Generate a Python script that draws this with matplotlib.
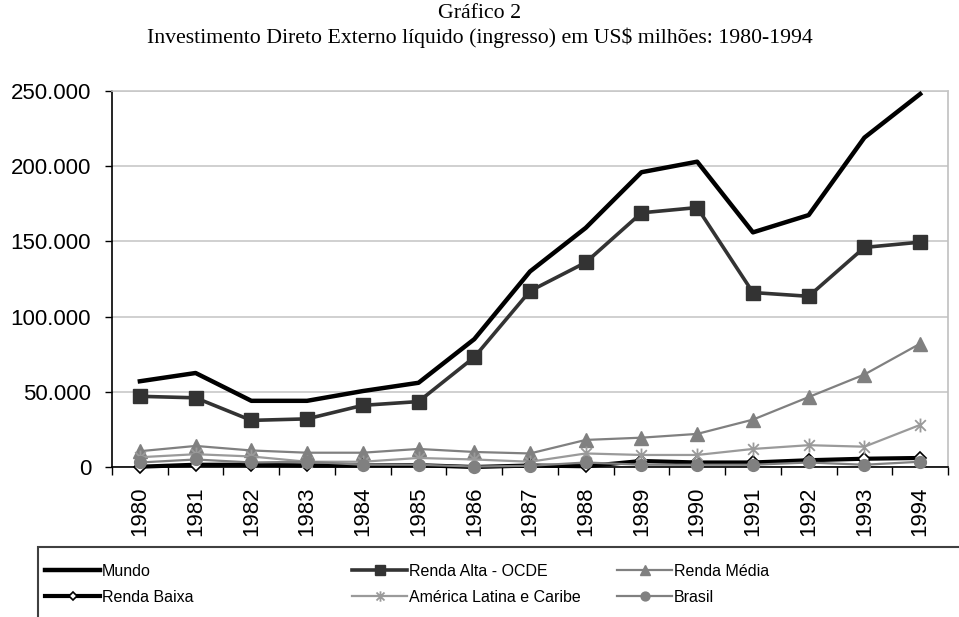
import matplotlib
matplotlib.use("Agg")
import matplotlib.pyplot as plt
from matplotlib.path import Path
from matplotlib.patches import Rectangle
from matplotlib.ticker import FuncFormatter, FixedLocator

years = [str(y) for y in range(1980, 1995)]

mundo = [57000, 62500, 44000, 44000, 50500, 56000, 85000, 130000, 159000, 196000, 203000, 156000, 167500, 219000, 248000]
renda_alta = [47000, 46000, 31000, 32000, 41000, 43500, 73000, 117000, 136000, 169000, 172500, 116000, 113500, 146000, 149500]
renda_media = [10500, 14000, 11000, 9500, 9500, 12000, 10000, 9000, 18000, 19500, 22000, 31500, 46500, 61500, 82000]
renda_baixa = [200, 1500, 1500, 1000, 1000, 1200, 0, 1000, 500, 4000, 3000, 3000, 4500, 5500, 6000]
america_latina = [6500, 8500, 7000, 3500, 3500, 6000, 5000, 3500, 9000, 8000, 8000, 12000, 14500, 13500, 28000]
brasil = [3000, 5000, 3000, 3500, 1500, 1500, 300, 800, 3000, 1500, 1500, 1500, 3000, 1500, 3500]

labels = ["Mundo", "Renda Alta - OCDE", "Renda Média", "Renda Baixa",
          "América Latina e Caribe", "Brasil"]

W, H = 959, 617
fig = plt.figure(figsize=(W / 100, H / 100), dpi=100)
ax = fig.add_axes([112 / W, 1 - 467 / H, (948 - 112) / W, (467 - 91) / H])

x = list(range(len(years)))
star = Path([(-1, -1), (1, 1), (-1, 1), (1, -1), (0, -1.3), (0, 1.3)],
            [Path.MOVETO, Path.LINETO, Path.MOVETO, Path.LINETO, Path.MOVETO, Path.LINETO])

ax.plot(x, mundo, color="black", lw=3.2, label=labels[0], zorder=3, clip_on=False)
ax.plot(x, renda_alta, color="#333333", lw=2.6, marker="s", ms=10, label=labels[1], zorder=3, clip_on=False)
ax.plot(x, renda_media, color="#808080", lw=1.6, marker="^", ms=10, label=labels[2], zorder=3, clip_on=False)
ax.plot(x, renda_baixa, color="black", lw=3.0, marker="D", ms=6, mfc="white", mec="black", mew=1.2,
        label=labels[3], zorder=3, clip_on=False)
ax.plot(x, america_latina, color="#9a9a9a", lw=1.6, marker=star, ms=10, mew=1.3, label=labels[4], zorder=3, clip_on=False)
ax.plot(x, brasil, color="#808080", lw=1.6, marker="o", ms=8.5, label=labels[5], zorder=3, clip_on=False)

ax.set_xlim(-0.5, len(years) - 0.5)
ax.set_ylim(0, 250000)
ax.set_yticks(range(0, 250001, 50000))
ax.yaxis.set_major_formatter(FuncFormatter(lambda v, p: f"{int(v):,}".replace(",", ".")))
ax.set_xticks(x)
ax.set_xticklabels(years, rotation=90)
ax.xaxis.set_minor_locator(FixedLocator([i - 0.5 for i in range(len(years) + 1)]))
ax.tick_params(axis="x", which="major", length=0, pad=14, labelsize=16)
ax.tick_params(axis="x", which="minor", length=5.5, width=1, direction="out")
ax.tick_params(axis="y", length=5, width=1, pad=10, labelsize=16)
for lab in ax.get_xticklabels() + ax.get_yticklabels():
    lab.set_fontfamily("Liberation Sans")

ax.grid(axis="y", color="#c8c8c8", lw=1.2, zorder=0)
ax.set_axisbelow(True)
ax.spines["left"].set_color("black")
ax.spines["bottom"].set_color("black")
ax.spines["right"].set_color("#c0c0c0")
ax.spines["top"].set_color("#c8c8c8")
for s in ax.spines.values():
    s.set_linewidth(1.2)

fig.text(0.5, 1 - 14 / H, "Gráfico 2", ha="center", va="center",
         fontsize=15.7, family="Liberation Serif")
fig.text(0.5, 1 - 38 / H,
         "Investimento Direto Externo líquido (ingresso) em US$ milhões: 1980-1994",
         ha="center", va="center", fontsize=15.7, family="Liberation Serif")

# legend box
fig.add_artist(Rectangle((38 / W, -0.05), 1.0, 0.05 + (617 - 547) / H, transform=fig.transFigure,
                         fill=False, edgecolor="#404040", lw=1.5, clip_on=False))

leg_size = 11.5
handles, labs = ax.get_legend_handles_labels()
col_x = [45, 352, 617]
fs_px = leg_size * 100 / 72
for c in range(3):
    hs = [handles[c], handles[c + 3]]
    ls = [labs[c], labs[c + 3]]
    lg = fig.legend(hs, ls, loc="center left", bbox_to_anchor=(col_x[c] / W, 1 - 584.5 / H),
                    frameon=False, handlelength=55 / fs_px, handletextpad=2 / fs_px,
                    labelspacing=(27 - fs_px) / fs_px,
                    borderaxespad=0, borderpad=0,
                    prop={"family": "Liberation Sans", "size": leg_size})
    for h in lg.legend_handles:
        if h.get_marker() not in (None, "None", ""):
            h.set_markersize(h.get_markersize() * 0.75)

fig.savefig("out.png", dpi=100)
